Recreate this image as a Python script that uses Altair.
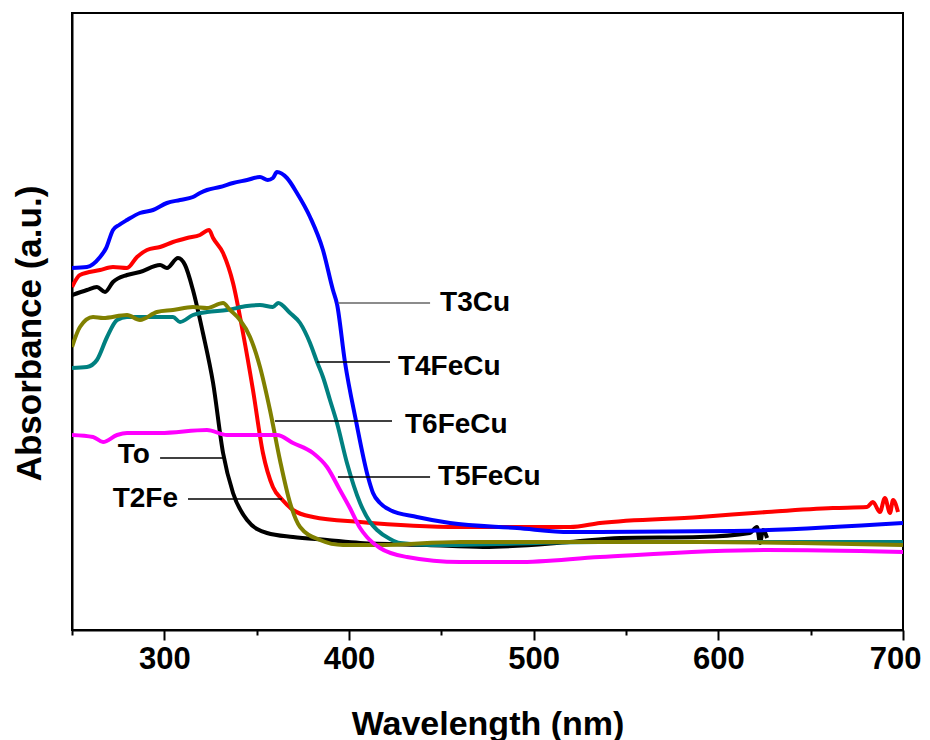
import altair as alt
import pandas as pd

# ---- data (wavelength in nm, absorbance in a.u.) ----
T3Cu_nm = [250, 258.1, 265.2, 268.5, 272.2, 275.5, 279.8, 286.8, 293.9, 301.4, 308.5, 315.5, 319.3, 323.1,
           330.1, 337.2, 344.8, 351.8, 356.0, 358.8, 361.0, 366.4, 371.8, 378.9, 385.9, 391.3, 393.5,
           397.8, 403.8, 410.3, 413.0, 416.8, 422.2, 436.8, 454.7, 491.0, 519.7, 535.9, 607.9, 700]
T3Cu_abs = [3.62, 3.63, 3.73, 3.82, 4.00, 4.05, 4.10, 4.17, 4.20, 4.27, 4.30, 4.33, 4.37, 4.40,
            4.43, 4.47, 4.50, 4.53, 4.50, 4.52, 4.58, 4.52, 4.37, 4.13, 3.80, 3.40, 3.26,
            2.68, 2.09, 1.53, 1.37, 1.27, 1.20, 1.13, 1.07, 1.02, 0.98, 0.98, 0.99, 1.07]

T2Fe_nm = [250, 254.3, 265.2, 272.2, 279.8, 285.2, 290.6, 297.7, 304.7, 312.3, 319.3, 324.2, 326.4,
           331.8, 337.2, 342.6, 348.0, 353.4, 358.8, 364.0, 369.7, 380.5, 406.0, 460.1, 519.7, 535.9,
           590.1, 626.4, 662.1, 680.5, 683.7, 687.5, 690.2, 693.0, 694.6, 697.3]
T2Fe_abs = [3.43, 3.55, 3.60, 3.63, 3.62, 3.73, 3.80, 3.83, 3.88, 3.92, 3.95, 4.00, 3.92,
            3.77, 3.47, 2.97, 2.40, 1.77, 1.43, 1.30, 1.20, 1.13, 1.08, 1.03, 1.03, 1.07,
            1.13, 1.18, 1.22, 1.23, 1.28, 1.18, 1.32, 1.17, 1.30, 1.18]

To_nm = [250, 258.1, 263.5, 267.9, 272.2, 279.8, 286.8, 297.7, 301.4, 307.4, 311.2, 315.5, 320.9,
         326.4, 331.8, 337.2, 344.8, 355.6, 369.7, 388.1, 406.0, 442.2, 472.6, 519.7, 546.7, 590.1,
         617.1, 620.9, 622.6, 624.2, 626.4]
To_abs = [3.35, 3.40, 3.43, 3.38, 3.48, 3.55, 3.58, 3.65, 3.62, 3.72, 3.65, 3.40, 2.97,
          2.47, 1.77, 1.37, 1.10, 0.97, 0.93, 0.90, 0.87, 0.85, 0.83, 0.88, 0.92, 0.93,
          0.97, 1.03, 0.87, 1.00, 0.92]

T6FeCu_nm = [250, 254.3, 261.4, 266.8, 279.8, 286.8, 296.0, 304.7, 315.5, 323.1, 331.8, 335.6, 341.0,
             346.4, 351.8, 357.2, 362.6, 368.1, 373.5, 384.3, 396.8, 415.2, 460.1, 535.9, 590.1,
             644.2, 700]
T6FeCu_abs = [2.83, 3.03, 3.13, 3.12, 3.15, 3.10, 3.18, 3.20, 3.23, 3.22, 3.27, 3.20, 3.10,
              2.93, 2.63, 2.20, 1.70, 1.27, 1.03, 0.90, 0.85, 0.85, 0.88, 0.88, 0.88,
              0.87, 0.85]

T4FeCu_nm = [250, 258.1, 263.5, 269.0, 274.4, 279.8, 297.7, 304.7, 308.5, 315.5, 323.1, 333.9, 344.8,
             351.8, 358.8, 361.6, 368.1, 373.5, 378.9, 382.7, 385.9, 389.7, 393.5, 398.9, 406.0,
             411.4, 415.2, 422.2, 427.6, 445.5, 535.9, 644.2, 700]
T4FeCu_abs = [2.62, 2.63, 2.70, 2.93, 3.10, 3.13, 3.13, 3.13, 3.08, 3.15, 3.18, 3.20, 3.24,
              3.25, 3.23, 3.27, 3.17, 3.07, 2.87, 2.68, 2.53, 2.30, 2.07, 1.67, 1.27,
              1.08, 1.00, 0.91, 0.87, 0.85, 0.88, 0.88, 0.88]

T5FeCu_nm = [250, 261.4, 266.8, 274.4, 279.8, 297.7, 323.1, 333.9, 351.8, 361.0, 369.7, 380.5, 388.1,
             395.1, 400.5, 406.0, 409.7, 416.8, 431.4, 460.1, 491.0, 535.9, 626.4, 700]
T5FeCu_abs = [1.95, 1.93, 1.88, 1.95, 1.97, 1.97, 2.00, 1.95, 1.95, 1.95, 1.87, 1.77, 1.63,
              1.40, 1.22, 1.02, 0.93, 0.82, 0.73, 0.68, 0.68, 0.73, 0.80, 0.78]

series_names = ["To", "T2Fe", "T3Cu", "T4FeCu", "T6FeCu", "T5FeCu"]
series_colors = ["#000000", "#FF0000", "#0000FF", "#008080", "#808000", "#FF00FF"]

# annotation labels and leader lines (nm / a.u.)
label_text = ["T3Cu", "T4FeCu", "T6FeCu", "T5FeCu", "To", "T2Fe"]
label_x = [449.3, 426.5, 430.3, 448.2, 292.2, 307.4]
label_y = [3.27, 2.63, 2.05, 1.53, 1.75, 1.31]
label_align = ["left", "left", "left", "left", "right", "right"]
leader_x1 = [394.0, 382.7, 359.9, 394.0, 297.7, 312.8]
leader_x2 = [443.9, 422.2, 423.3, 443.9, 331.8, 363.7]
leader_y = [3.27, 2.68, 2.09, 1.53, 1.72, 1.31]
leader_color = ["#666666", "#000000", "#000000", "#000000", "#000000", "#000000"]

x_tick_values = [250, 300, 350, 400, 450, 500, 550, 600, 650, 700]

# ---- build tables ----
series_data = {
    "To": (To_nm, To_abs), "T2Fe": (T2Fe_nm, T2Fe_abs), "T3Cu": (T3Cu_nm, T3Cu_abs),
    "T4FeCu": (T4FeCu_nm, T4FeCu_abs), "T6FeCu": (T6FeCu_nm, T6FeCu_abs),
    "T5FeCu": (T5FeCu_nm, T5FeCu_abs),
}
rows = []
for name in series_names:
    xs, ys = series_data[name]
    for i, (x, y) in enumerate(zip(xs, ys)):
        rows.append({"series": name, "wl": x, "abs": y, "idx": i})
df = pd.DataFrame(rows)

labels_df = pd.DataFrame({"text": label_text, "x": label_x, "y": label_y, "align": label_align})
leaders_df = pd.DataFrame({"x1": leader_x1, "x2": leader_x2, "y": leader_y, "color": leader_color})

FONT = "Liberation Sans"

x_scale = alt.Scale(domain=[250, 700], nice=False, zero=False)
y_scale = alt.Scale(domain=[0, 6.17], nice=False, zero=True)

x_axis = alt.Axis(
    title="Wavelength (nm)", values=x_tick_values, grid=False,
    labelExpr="datum.value % 100 === 0 ? datum.label : ''",
    tickSize={"condition": {"test": "datum.value % 100 === 0", "value": 10}, "value": 5},
    tickColor="black", tickWidth=2, domainColor="black", domainWidth=2,
    labelFont=FONT, labelFontSize=31, labelFontWeight="bold", labelColor="black",
    labelPadding=4, labelFlush=True, labelFlushOffset=18,
    titleFont=FONT, titleFontSize=34, titleFontWeight="bold", titleColor="black",
    titleY=104, titleBaseline="alphabetic",
)
y_axis = alt.Axis(
    title="Absorbance (a.u.)", labels=False, ticks=False, grid=False,
    domainColor="black", domainWidth=2,
    titleFont=FONT, titleFontSize=35, titleFontWeight="bold", titleColor="black",
    titleX=-32, titleY=320, titleAngle=-90, titleAlign="center", titleBaseline="alphabetic",
)

lines = alt.Chart(df).mark_line(strokeWidth=4, clip=True, interpolate="monotone").encode(
    x=alt.X("wl:Q", scale=x_scale, axis=x_axis),
    y=alt.Y("abs:Q", scale=y_scale, axis=y_axis),
    color=alt.Color("series:N", scale=alt.Scale(domain=series_names, range=series_colors), legend=None),
    order=alt.Order("idx:Q"),
)

leaders = alt.Chart(leaders_df).mark_rule(strokeWidth=1.5).encode(
    x=alt.X("x1:Q", scale=x_scale),
    x2="x2:Q",
    y=alt.Y("y:Q", scale=y_scale),
    color=alt.Color("color:N", scale=None),
)

texts_left = alt.Chart(labels_df[labels_df["align"] == "left"]).mark_text(
    align="left", baseline="middle", font=FONT, fontSize=28, fontWeight="bold", color="black"
).encode(x=alt.X("x:Q", scale=x_scale), y=alt.Y("y:Q", scale=y_scale), text="text:N")

texts_right = alt.Chart(labels_df[labels_df["align"] == "right"]).mark_text(
    align="right", baseline="middle", font=FONT, fontSize=28, fontWeight="bold", color="black"
).encode(x=alt.X("x:Q", scale=x_scale), y=alt.Y("y:Q", scale=y_scale), text="text:N")

chart = alt.layer(lines, leaders, texts_left, texts_right).properties(
    width=831, height=617,
    autosize=alt.AutoSizeParams(type="none"),
    padding={"left": 64, "top": 5, "right": 19, "bottom": 112},
    background="white",
).configure_view(stroke="black", strokeWidth=2)

chart.save("out.html", embed_options={"renderer": "svg", "actions": False})
